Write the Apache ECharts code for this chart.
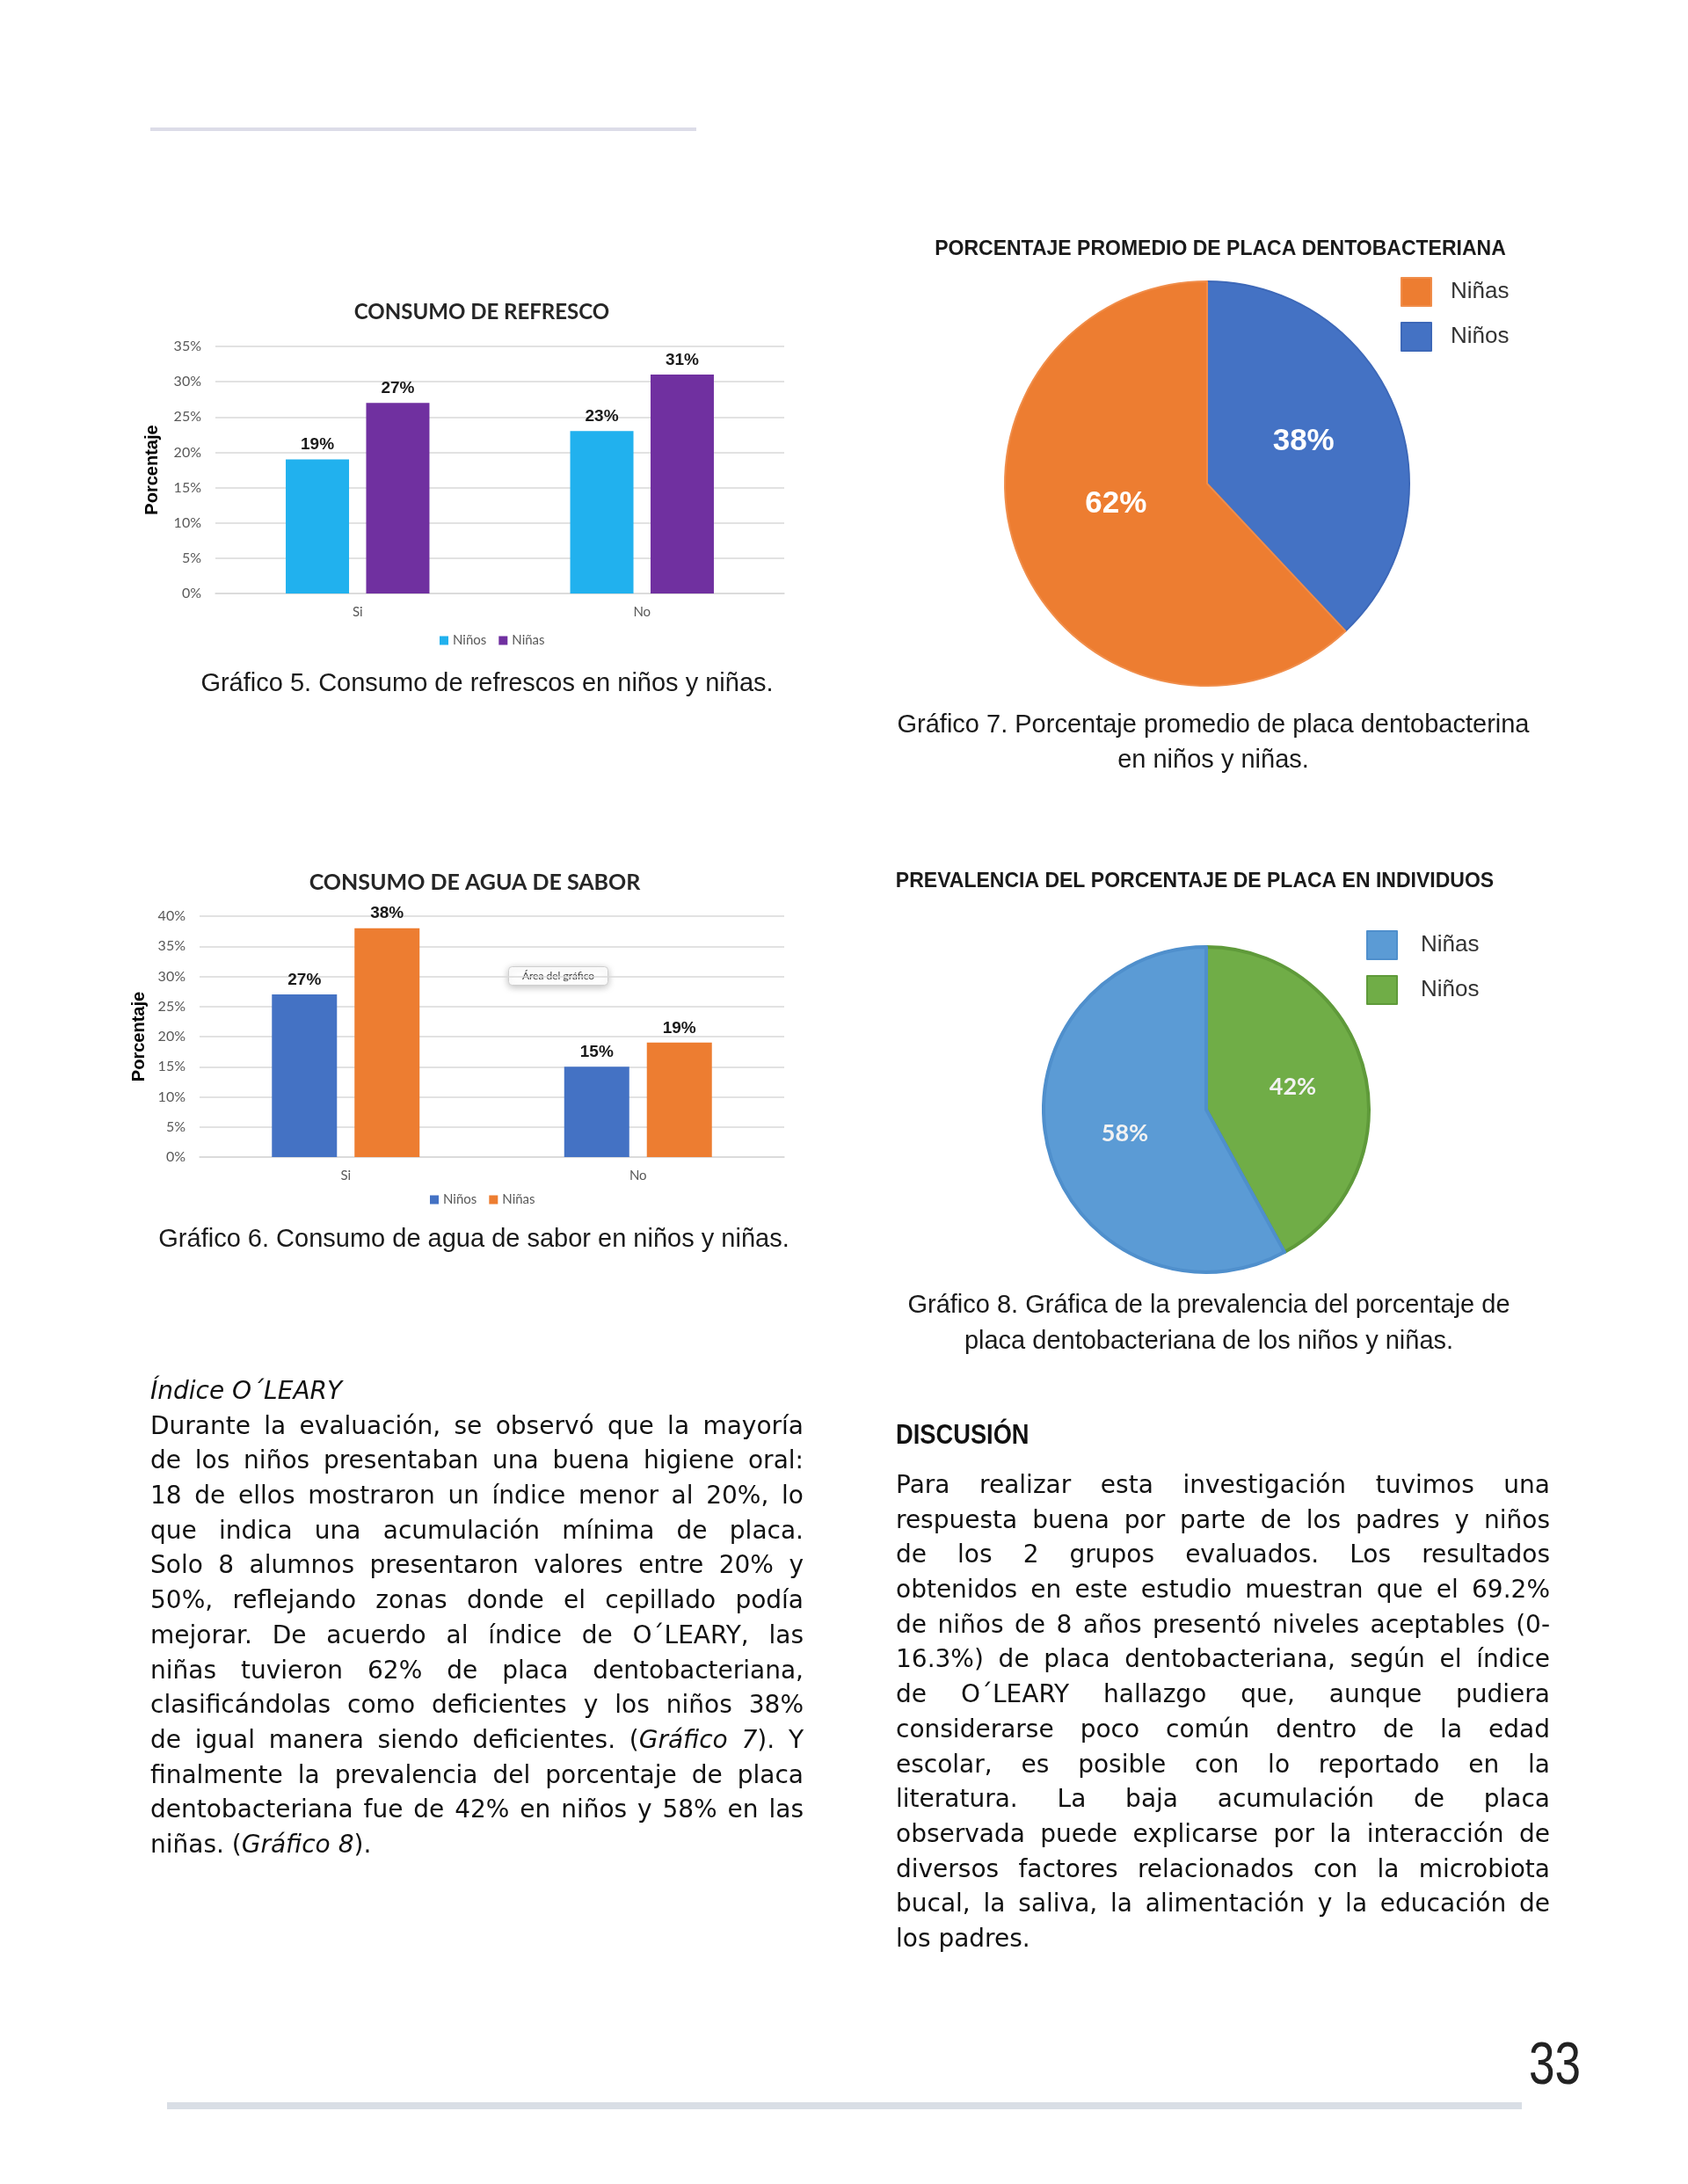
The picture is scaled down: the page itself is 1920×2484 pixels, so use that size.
<!DOCTYPE html>
<html>
<head>
<meta charset="utf-8">
<script src="https://cdn.jsdelivr.net/npm/echarts@6/dist/echarts.min.js"></script>
<style>
html,body{margin:0;padding:0;background:#fff;}
#page{position:relative;width:1920px;height:2484px;overflow:hidden;background:#fff;}
.layer{position:absolute;left:0;top:0;width:1920px;height:2484px;}
.rule{position:absolute;}
.col{position:absolute;font-family:'DejaVu Sans',Verdana,sans-serif;font-size:28px;color:#111;}
.ln{height:39.7px;line-height:39.7px;white-space:nowrap;text-align:justify;text-align-last:justify;}
.ln.last{text-align-last:left;}
.head{font-family:'Liberation Sans',Arial,sans-serif;font-weight:bold;font-size:31px;height:40px;line-height:40px;transform:scaleX(0.88);transform-origin:left center;white-space:nowrap;}
#pnum{position:absolute;left:1739px;top:2312px;font-family:'Liberation Sans',Arial,sans-serif;font-size:68px;line-height:68px;color:#222;transform:scaleX(0.78);transform-origin:left top;}
</style>
</head>
<body>
<div id="page">
  <div class="rule" style="left:171px;top:145px;width:621px;height:4px;background:#dcdce8;"></div>
  <div class="rule" style="left:190px;top:2391px;width:1541px;height:8px;background:#d9dee5;"></div>
  <div id="pnum">33</div>

  <div id="c1" class="layer"></div>
  <div id="c2" class="layer"></div>
  <div id="c3" class="layer"></div>
  <div id="c4" class="layer"></div>

  <div class="col" style="left:171px;top:1562px;width:743px;">
    <div class="ln last"><i>Índice O´LEARY</i></div>
    <div class="ln">Durante la evaluación, se observó que la mayoría</div>
    <div class="ln">de los niños presentaban una buena higiene oral:</div>
    <div class="ln">18 de ellos mostraron un índice menor al 20%, lo</div>
    <div class="ln">que indica una acumulación mínima de placa.</div>
    <div class="ln">Solo 8 alumnos presentaron valores entre 20% y</div>
    <div class="ln">50%, reflejando zonas donde el cepillado podía</div>
    <div class="ln">mejorar. De acuerdo al índice de O´LEARY, las</div>
    <div class="ln">niñas tuvieron 62% de placa dentobacteriana,</div>
    <div class="ln">clasificándolas como deficientes y los niños 38%</div>
    <div class="ln">de igual manera siendo deficientes. (<i>Gráfico 7</i>). Y</div>
    <div class="ln">finalmente la prevalencia del porcentaje de placa</div>
    <div class="ln">dentobacteriana fue de 42% en niños y 58% en las</div>
    <div class="ln last">niñas. (<i>Gráfico 8</i>).</div>
  </div>

  <div class="col" style="left:1019px;top:1612px;width:744px;">
    <div class="head">DISCUSIÓN</div>
  </div>
  <div class="col" style="left:1019px;top:1669px;width:744px;">
    <div class="ln">Para realizar esta investigación tuvimos una</div>
    <div class="ln">respuesta buena por parte de los padres y niños</div>
    <div class="ln">de los 2 grupos evaluados. Los resultados</div>
    <div class="ln">obtenidos en este estudio muestran que el 69.2%</div>
    <div class="ln">de niños de 8 años presentó niveles aceptables (0-</div>
    <div class="ln">16.3%) de placa dentobacteriana, según el índice</div>
    <div class="ln">de O´LEARY hallazgo que, aunque pudiera</div>
    <div class="ln">considerarse poco común dentro de la edad</div>
    <div class="ln">escolar, es posible con lo reportado en la</div>
    <div class="ln">literatura. La baja acumulación de placa</div>
    <div class="ln">observada puede explicarse por la interacción de</div>
    <div class="ln">diversos factores relacionados con la microbiota</div>
    <div class="ln">bucal, la saliva, la alimentación y la educación de</div>
    <div class="ln last">los padres.</div>
  </div>
</div>

<script>
// ---------- DATA ----------
const barCategories = ['Si', 'No'];
const refrescoNinos = [19, 23];
const refrescoNinas = [27, 31];
const aguaNinos = [27, 15];
const aguaNinas = [38, 19];
const refrescoAxisMax = 35;
const aguaAxisMax = 40;
const axisStep = 5;
const pieNames = ['Niños', 'Niñas'];
const placaValues = [38, 62];
const prevalenciaValues = [42, 58];
const pieLegendOrder = ['Niñas', 'Niños'];

// ---------- helpers ----------
const gray = '#595959';
const gridColor = '#d9d9d9';
const calibri = 'Lato, "Open Sans", sans-serif';
const arial = '"Liberation Sans", Arial, sans-serif';

function barOption(cfg) {
  const lbl = {
    show: true, position: 'top', distance: 7, formatter: '{c}%',
    fontFamily: arial, fontWeight: 'bold', fontSize: 19, color: '#1a1a1a'
  };
  return {
    animation: false,
    title: [
      { text: cfg.title, left: cfg.titleX, top: cfg.titleY - 12, textAlign: 'center', padding: 0,
        textStyle: { fontFamily: calibri, fontWeight: 'bold', fontSize: cfg.titleSize, color: '#262626' } },
      { text: cfg.caption, left: cfg.capX, top: cfg.capY - 15, textAlign: 'center', padding: 0,
        textStyle: { fontFamily: arial, fontWeight: 'normal', fontSize: 29, color: '#1a1a1a' } }
    ],
    grid: cfg.grid,
    legend: {
      left: cfg.legX, top: cfg.legY - 8, padding: 0, icon: 'rect', itemWidth: 10, itemHeight: 10, itemGap: 14,
      data: ['Niños', 'Niñas'],
      textStyle: { fontFamily: calibri, fontSize: 15, color: gray }
    },
    xAxis: {
      type: 'category', data: barCategories,
      axisTick: { show: false },
      axisLine: { lineStyle: { color: gridColor, width: 1.5 } },
      axisLabel: { margin: 14, fontFamily: calibri, fontSize: 15, color: gray }
    },
    yAxis: {
      type: 'value', min: 0, max: cfg.max, interval: axisStep,
      name: 'Porcentaje', nameLocation: 'middle', nameRotate: 90, nameGap: cfg.nameGap,
      nameTextStyle: { fontFamily: arial, fontWeight: 'bold', fontSize: 20, color: '#000' },
      axisLine: { show: false }, axisTick: { show: false },
      axisLabel: { formatter: '{value}%', margin: 16, fontFamily: calibri, fontSize: 16, color: gray },
      splitLine: { lineStyle: { color: gridColor, width: 1.5 } }
    },
    graphic: cfg.graphic || [],
    series: [
      { name: 'Niños', type: 'bar', data: cfg.ninos, barWidth: cfg.barWidth, barGap: '27%',
        itemStyle: { color: cfg.c1 }, label: lbl },
      { name: 'Niñas', type: 'bar', data: cfg.ninas, barWidth: cfg.barWidth,
        itemStyle: { color: cfg.c2 }, label: lbl }
    ]
  };
}

function pieOption(cfg) {
  return {
    animation: false,
    title: [
      { text: cfg.title, left: cfg.titleX, top: cfg.titleY - 12, textAlign: 'center', padding: 0,
        textStyle: { fontFamily: arial, fontWeight: 'bold', fontSize: cfg.titleSize, color: '#1a1a1a' } },
      { text: cfg.caption, left: cfg.capX, top: cfg.capY, textAlign: 'center', padding: 0,
        textStyle: { fontFamily: arial, fontWeight: 'normal', fontSize: 29, lineHeight: cfg.capLH, color: '#1a1a1a' } }
    ],
    legend: {
      orient: 'vertical', left: cfg.legX, top: cfg.legY, padding: 0, icon: 'rect',
      itemWidth: 34, itemHeight: 32, itemGap: 17, data: pieLegendOrder,
      textStyle: { fontFamily: arial, fontSize: 26, color: '#333', padding: [0, 0, 0, cfg.legPad] }
    },
    series: [{
      type: 'pie', center: cfg.center, radius: cfg.radius, startAngle: 90, clockwise: true,
      data: pieNames.map((n, i) => ({
        name: n, value: cfg.values[i],
        itemStyle: { color: cfg.colors[i], borderColor: cfg.borders[i], borderWidth: cfg.borderWidth },
        label: { offset: cfg.labelOffsets[i] }
      })),
      label: { show: true, position: 'inside', formatter: '{c}%', fontFamily: cfg.labelFont,
        fontWeight: 'bold', fontSize: cfg.labelSize, color: cfg.labelColor },
      labelLine: { show: false },
      emphasis: { disabled: true }
    }]
  };
}

// ---------- Chart 5 ----------
echarts.init(document.getElementById('c1')).setOption(barOption({
  title: 'CONSUMO DE REFRESCO', titleX: 548, titleY: 355, titleSize: 24,
  caption: 'Gráfico 5. Consumo de refrescos en niños y niñas.', capX: 554, capY: 778,
  grid: { left: 245, top: 394, width: 647, height: 281 },
  legX: 500, legY: 729, max: refrescoAxisMax, nameGap: 62, barWidth: 72,
  ninos: refrescoNinos, ninas: refrescoNinas, c1: '#21B1EE', c2: '#7030A0'
}));

// ---------- Chart 6 ----------
echarts.init(document.getElementById('c2')).setOption(barOption({
  title: 'CONSUMO DE AGUA DE SABOR', titleX: 540, titleY: 1003, titleSize: 25,
  caption: 'Gráfico 6. Consumo de agua de sabor en niños y niñas.', capX: 539, capY: 1410,
  grid: { left: 227, top: 1042, width: 665, height: 274 },
  legX: 489, legY: 1365, max: aguaAxisMax, nameGap: 59, barWidth: 74,
  ninos: aguaNinos, ninas: aguaNinas, c1: '#4472C4', c2: '#ED7D31',
  graphic: [{
    type: 'group', left: 578, top: 1099,
    children: [
      { type: 'rect', shape: { x: 0, y: 0, width: 113, height: 21, r: 4 },
        style: { fill: '#fff', stroke: '#cfcfcf', lineWidth: 1, shadowBlur: 8, shadowOffsetY: 2, shadowColor: 'rgba(0,0,0,0.25)' } },
      { type: 'text', x: 56.5, y: 10.5,
        style: { text: 'Área del gráfico', align: 'center', verticalAlign: 'middle', fill: '#404040', font: '12px Lato, sans-serif' } }
    ]
  }]
}));

// ---------- Chart 7 ----------
echarts.init(document.getElementById('c3')).setOption(pieOption({
  title: 'PORCENTAJE PROMEDIO DE PLACA DENTOBACTERIANA', titleX: 1388, titleY: 284, titleSize: 23,
  caption: 'Gráfico 7. Porcentaje promedio de placa dentobacterina\nen niños y niñas.', capX: 1380, capY: 805, capLH: 40,
  legX: 1593, legY: 315, legPad: 17,
  center: [1373, 550], radius: 230, values: placaValues,
  colors: ['#4472C4', '#ED7D31'], borders: ['#3d68b8', '#F08D4A'], borderWidth: 2,
  labelOffsets: [[0, -4], [6, -20]],
  labelFont: arial, labelSize: 35, labelColor: '#ffffff'
}));

// ---------- Chart 8 ----------
echarts.init(document.getElementById('c4')).setOption(pieOption({
  title: 'PREVALENCIA DEL PORCENTAJE DE PLACA EN INDIVIDUOS', titleX: 1359, titleY: 1003, titleSize: 23,
  caption: 'Gráfico 8. Gráfica de la prevalencia del porcentaje de\nplaca dentobacteriana de los niños y niñas.', capX: 1375, capY: 1464, capLH: 41,
  legX: 1554, legY: 1058, legPad: 22,
  center: [1372, 1262], radius: 185, values: prevalenciaValues,
  colors: ['#70AD47', '#5B9BD5'], borders: ['#5f9a3a', '#4f8fcc'], borderWidth: 4,
  labelOffsets: [[6, -2], [0, 4]],
  labelFont: calibri, labelSize: 27, labelColor: '#f2f2f2'
}));
</script>
</body>
</html>
